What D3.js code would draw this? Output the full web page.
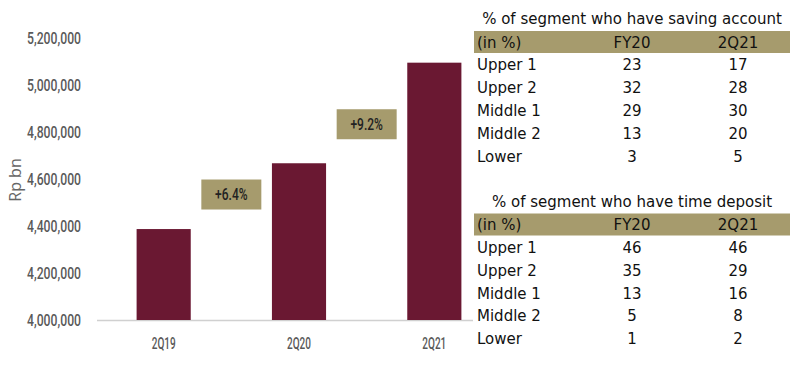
<!DOCTYPE html>
<html><head><meta charset="utf-8">
<script src="https://cdn.jsdelivr.net/npm/d3@7"></script>
<style>body{margin:0;background:#fff}svg{display:block}</style>
</head><body>
<svg id="c" width="800" height="370"></svg>
<script>
const categories = ["2Q19","2Q20","2Q21"];
const values = [4387000, 4667000, 5095000];
const yTicks = [4000000,4200000,4400000,4600000,4800000,5000000,5200000];
const growthLabels = ["+6.4%","+9.2%"];
const growthLevels = [4534000, 4833000];
const segments = ["Upper 1","Upper 2","Middle 1","Middle 2","Lower"];
const tableCols = ["(in %)","FY20","2Q21"];
const savingFY20 = [23,32,29,13,3];
const saving2Q21 = [17,28,30,20,5];
const depositFY20 = [46,35,13,5,1];
const deposit2Q21 = [46,29,16,8,2];

const svg = d3.select("#c");
const barColor = "#6a1832", olive = "#a69b6d";
const cfont = "Roboto,'DejaVu Sans',sans-serif";
const tfont = "'DejaVu Sans',sans-serif";

function squeeze(sel, perChar){
  sel.each(function(){
    const el = d3.select(this);
    const x0 = +el.attr("x") || 0;
    const nat = this.getComputedTextLength();
    const sx = (this.textContent.length*perChar)/nat;
    el.attr("x",0).attr("transform",`translate(${x0},0) scale(${sx.toFixed(3)},1)`);
  });
}

const x = d3.scaleBand().domain(categories).range([96,502]).paddingInner(0.6).paddingOuter(0.3);
const y = d3.scaleLinear().domain([4000000,5200000]).range([320,38]);

svg.append("line").attr("x1",97).attr("x2",473).attr("y1",y(4000000)+0.5).attr("y2",y(4000000)+0.5)
  .attr("stroke","#d0d0d0").attr("stroke-width",1.5);

const yAxis = svg.append("g").attr("transform","translate(84,0)")
  .call(d3.axisLeft(y).tickValues(yTicks).tickSize(0).tickPadding(3).tickFormat(d3.format(",")));
yAxis.select(".domain").remove();
yAxis.selectAll("text").attr("font-family",cfont).attr("font-weight",500).attr("font-size",16).attr("fill","#595959").call(squeeze,6.0);

svg.append("text").attr("transform","translate(15,180) rotate(-90)").attr("text-anchor","middle").attr("dy","0.35em")
  .attr("font-family","'Open Sans',sans-serif").attr("font-size",16).attr("fill","#666").text("Rp bn");

svg.selectAll("rect.bar").data(values).join("rect").attr("class","bar")
  .attr("x",(d,i)=>x(categories[i])).attr("width",x.bandwidth())
  .attr("y",d=>y(d)).attr("height",d=>y(4000000)-y(d)).attr("fill",barColor);

const cats = svg.selectAll("g.cat").data(categories).join("g").attr("class","cat")
  .attr("transform","translate(0,343)");
cats.append("text").attr("x",d=>x(d)+x.bandwidth()/2).attr("dy","0.35em").attr("text-anchor","middle")
  .attr("font-family",cfont).attr("font-weight",500).attr("font-size",16).attr("fill","#595959").text(d=>d).call(squeeze,6.0);

growthLabels.forEach((g,i)=>{
  const cx = (x(categories[i])+x.bandwidth() + x(categories[i+1]))/2;
  const cy = y(growthLevels[i]);
  svg.append("rect").attr("x",cx-30).attr("y",cy-15).attr("width",60).attr("height",30).attr("fill",olive);
  svg.append("g").attr("transform",`translate(0,${cy})`).append("text").attr("x",cx).attr("dy","0.35em").attr("text-anchor","middle")
    .attr("font-family",cfont).attr("font-weight",500).attr("font-size",16).attr("fill","#222").text(g).call(squeeze,6.5);
});

function table(top, title, a, b){
  const g = svg.append("g");
  const colX = [477, 632, 738];
  g.append("text").attr("x",632).attr("y",top).attr("dy","0.35em").attr("text-anchor","middle")
    .attr("font-family",tfont).attr("font-size",15).attr("fill","#111").text(title);
  const rowY = d3.scaleBand().domain(["h"].concat(segments)).range([top+12, top+12+22.8*6]);
  g.append("rect").attr("x",474).attr("width",316).attr("y",rowY("h")).attr("height",22).attr("fill",olive);
  tableCols.forEach((c,j)=>{
    g.append("text").attr("x",colX[j]).attr("y",rowY("h")+rowY.bandwidth()/2).attr("dy","0.35em")
      .attr("text-anchor",j===0?"start":"middle").attr("font-family",tfont).attr("font-size",15).attr("fill","#111").text(c);
  });
  segments.forEach((s,i)=>{
    const yy = rowY(s)+rowY.bandwidth()/2;
    [s, a[i], b[i]].forEach((v,j)=>{
      g.append("text").attr("x",colX[j]).attr("y",yy).attr("dy","0.35em")
        .attr("text-anchor",j===0?"start":"middle").attr("font-family",tfont).attr("font-size",15).attr("fill","#111").text(v);
    });
  });
}
table(19, "% of segment who have saving account", savingFY20, saving2Q21);
table(201.5, "% of segment who have time deposit", depositFY20, deposit2Q21);
</script>
</body></html>
